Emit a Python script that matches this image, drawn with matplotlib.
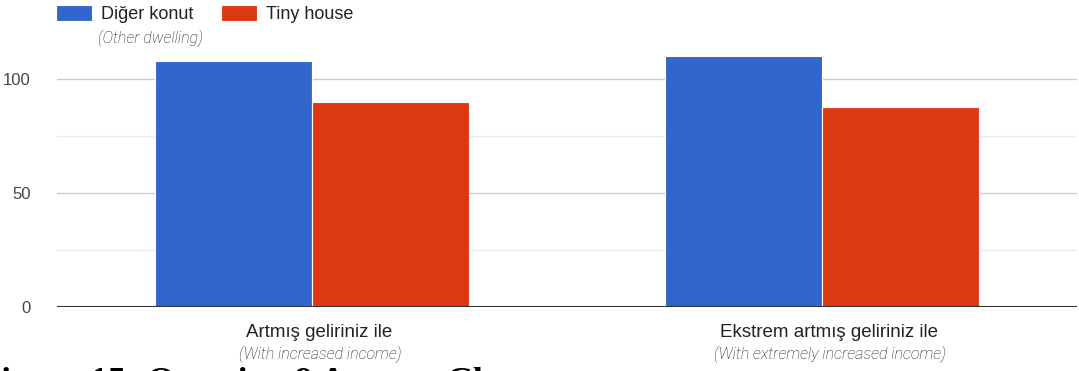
import matplotlib
matplotlib.use("Agg")
import matplotlib.pyplot as plt
import matplotlib.transforms as mtransforms
import numpy as np

categories = ["Artmış geliriniz ile", "Ekstrem artmış geliriniz ile"]
category_notes = ["(With increased income)", "(With extremely increased income)"]
series_names = ["Diğer konut", "Tiny house"]
series_notes = ["(Other dwelling)", None]
other_dwelling = [108, 110]
tiny_house = [90, 88]
y_ticks = [0, 50, 100]

plt.rcParams['font.family'] = ['Liberation Sans', 'DejaVu Sans']

fig = plt.figure(figsize=(10.79, 3.71), dpi=100)
ax = fig.add_axes([57 / 1079, 64 / 371, 1020 / 1079, 262 / 371])

x = np.arange(len(categories))
w = 0.308
b1 = ax.bar(x - w / 2, other_dwelling, w, color="#3366CC", edgecolor="white",
            linewidth=0.8, zorder=3, label=series_names[0])
b2 = ax.bar(x + w / 2, tiny_house, w, color="#DC3912", edgecolor="white",
            linewidth=0.8, zorder=3, label=series_names[1])

ax.set_xlim(-0.5, 1.5)
ax.set_ylim(0, 115)

# grid lines, lighter at the minor steps
for v in [25, 75]:
    ax.axhline(v, color="#ebebeb", linewidth=1, zorder=1)
for v in [50, 100]:
    ax.axhline(v, color="#cccccc", linewidth=1, zorder=1)
ax.axhline(0, color="#333333", linewidth=1.5, zorder=4)

for s in ax.spines.values():
    s.set_visible(False)

ax.set_yticks(y_ticks)
ax.set_yticklabels([str(t) for t in y_ticks], fontsize=12, color="#444444")
ax.tick_params(axis="y", length=0, pad=19)

ax.set_xticks(x + 0.014)
ax.set_xticklabels(categories, fontsize=13.5, color="#222222")
ax.tick_params(axis="x", length=0, pad=12)

note_font = dict(fontsize=11.5, fontstyle="italic", fontweight="light",
                 family=["Roboto", "DejaVu Sans"], color="#1a1a1a")
trans = mtransforms.blended_transform_factory(ax.transData, ax.transAxes)
for i, note in enumerate(category_notes):
    ax.text(x[i] + 0.016, -47 / 262, note, transform=trans, ha="center", va="center", **note_font)

leg = fig.legend(handles=[b1, b2], loc="center left", bbox_to_anchor=(56 / 1079, 1 - 14 / 371),
                 ncol=2, frameon=False, fontsize=13, handlelength=2.0, handleheight=1.0,
                 handletextpad=0.5, columnspacing=1.5, borderaxespad=0, borderpad=0)
for t in leg.get_texts():
    t.set_color("#222222")

fig.text(98 / 1079, 1 - 38 / 371, series_notes[0], ha="left", va="center", **note_font)

# document caption, cut off at the bottom edge
fig.text(-0.21, -0.21, "Figure 15: Question 9 Answer Chart", transform=fig.dpi_scale_trans,
         ha="left", va="baseline", fontsize=26, fontweight="bold",
         family=["Liberation Serif", "DejaVu Serif"], color="black")

fig.savefig("out.png", dpi=100)
